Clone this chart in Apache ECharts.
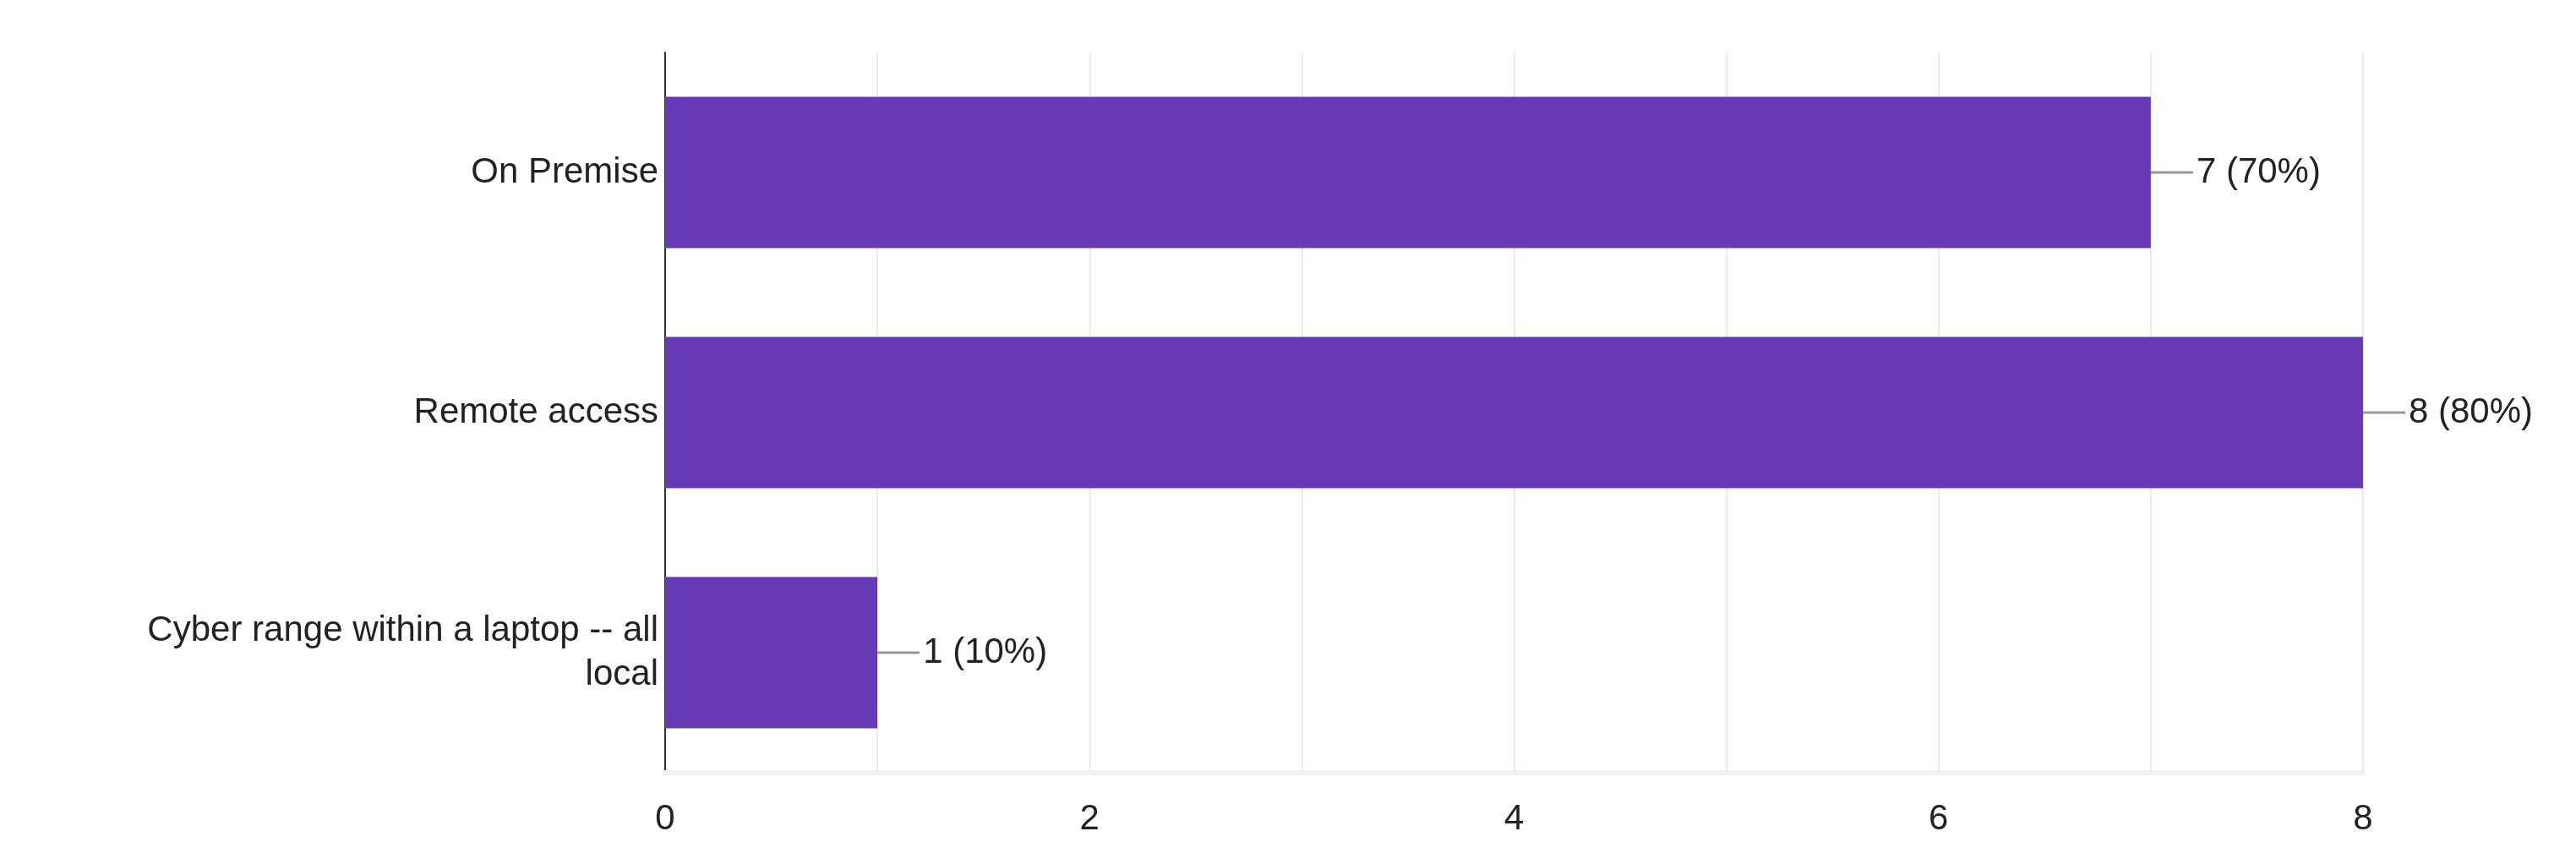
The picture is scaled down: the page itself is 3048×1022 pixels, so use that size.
<!DOCTYPE html>
<html>
<head>
<meta charset="utf-8">
<script src="https://cdn.jsdelivr.net/npm/echarts@6/dist/echarts.min.js"></script>
<style>html,body{margin:0;padding:0;background:#fff}#main{width:3048px;height:1022px}</style>
</head>
<body>
<div id="main"></div>
<script>
var categories = ['On Premise', 'Remote access', 'Cyber range within a laptop -- all local'];
var counts = [7, 8, 1];
var percents = ['70%', '80%', '10%'];
var xTicks = [0, 2, 4, 6, 8];

var myChart = echarts.init(document.getElementById('main'));
var option = {
    backgroundColor: '#ffffff',
    animation: false,
    grid: { left: 787, right: 252, top: 62, bottom: 108 },
    xAxis: {
        type: 'value',
        min: 0, max: 8, interval: 1,
        axisLine: { show: true, lineStyle: { color: '#f0f0f0', width: 6 } },
        axisTick: { show: false },
        splitLine: { show: true, lineStyle: { color: '#ebebeb', width: 2 } },
        axisLabel: {
            fontFamily: 'Liberation Sans', fontSize: 42, color: '#222', margin: 34,
            formatter: function (v) { return xTicks.indexOf(v) >= 0 ? String(v) : ''; }
        }
    },
    yAxis: {
        type: 'category',
        inverse: true,
        data: categories,
        axisLine: { show: true, lineStyle: { color: '#333', width: 2 } },
        axisTick: { show: false },
        axisLabel: {
            fontFamily: 'Liberation Sans', fontSize: 42, color: '#222', margin: 8,
            lineHeight: 52, align: 'right',
            formatter: function (v) { return v.replace(' -- all ', ' -- all\n'); }
        }
    },
    series: [{
        type: 'bar',
        data: counts,
        barCategoryGap: '37%',
        itemStyle: { color: '#673ab7' },
        label: {
            show: true,
            position: 'right',
            distance: 0,
            formatter: function (p) {
                return '{ln|}{t|' + counts[p.dataIndex] + ' (' + percents[p.dataIndex] + ')}';
            },
            rich: {
                ln: { width: 50, height: 3, backgroundColor: '#999' },
                t: { fontFamily: 'Liberation Sans', fontSize: 42, color: '#222', padding: [0, 0, 0, 4] }
            }
        }
    }]
};
myChart.setOption(option, true);
</script>
</body>
</html>
